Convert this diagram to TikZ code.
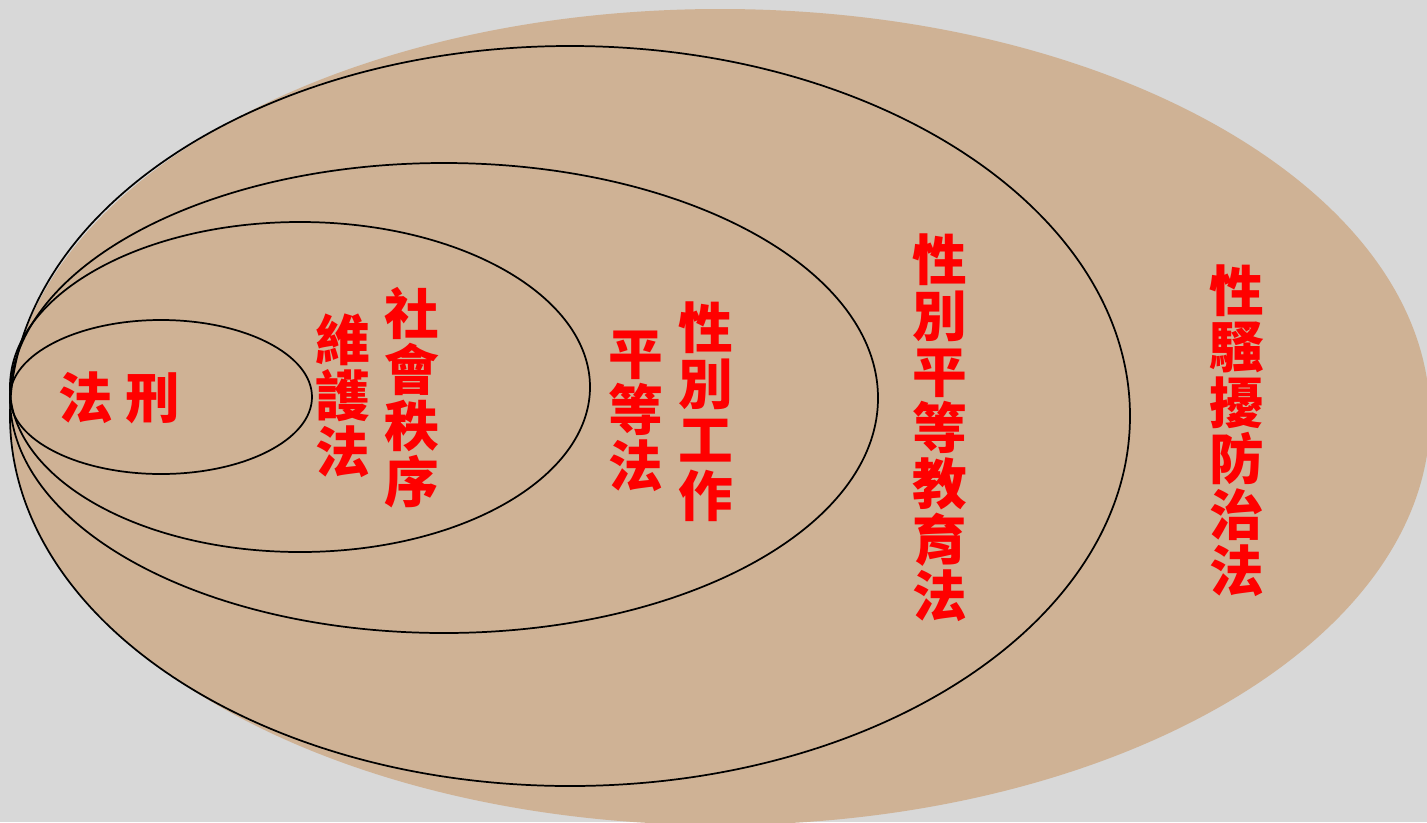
\documentclass[tikz,border=0pt]{standalone}
\usepackage{fontspec}
\newfontfamily\cjk{Noto Sans CJK TC}

\begin{document}
\begin{tikzpicture}[x=0.75pt,y=0.75pt,yscale=-1,xscale=1,
  ring/.style={draw=black,line width=1.3pt},
  lawtext/.style={text=red,font=\cjk\bfseries\fontsize{41}{42}\selectfont,align=center,inner sep=0pt}]
%set diagram from (0,0) to (1427,822)
\useasboundingbox (0,0) rectangle (1427,822);
\clip (0,0) rectangle (1427,822);

%Shape: Background
\fill [color={rgb, 255:red, 216; green, 216; blue, 216 }] (0,0) rectangle (1427,822);
%Shape: Ellipse [outer, filled]
\fill [color={rgb, 255:red, 207; green, 178; blue, 149 }] (720,417) ellipse [x radius=710, y radius=408];
%Shape: Ellipse [gender equity education]
\draw [ring] (570,416) ellipse [x radius=560, y radius=370];
%Shape: Ellipse [gender equality in employment]
\draw [ring] (444,398) ellipse [x radius=434, y radius=235];
%Shape: Ellipse [social order]
\draw [ring] (300,387) ellipse [x radius=290, y radius=165];
%Shape: Ellipse [criminal]
\draw [ring] (161,397) ellipse [x radius=151, y radius=77];

% Text Node
\node [lawtext] (criminal) at (119,398) {法 刑};
% Text Node
\node [lawtext] (orderb) at (343,396) {維\\護\\法};
% Text Node
\node [lawtext] (ordera) at (412,398) {社\\會\\秩\\序};
% Text Node
\node [lawtext] (employb) at (636,411) {平\\等\\法};
% Text Node
\node [lawtext] (employa) at (706,412) {性\\別\\工\\作};
% Text Node
\node [lawtext] (education) at (940,428) {性\\別\\平\\等\\教\\育\\法};
% Text Node
\node [lawtext] (harassment) at (1237,431) {性\\騷\\擾\\防\\治\\法};

\end{tikzpicture}
\end{document}
